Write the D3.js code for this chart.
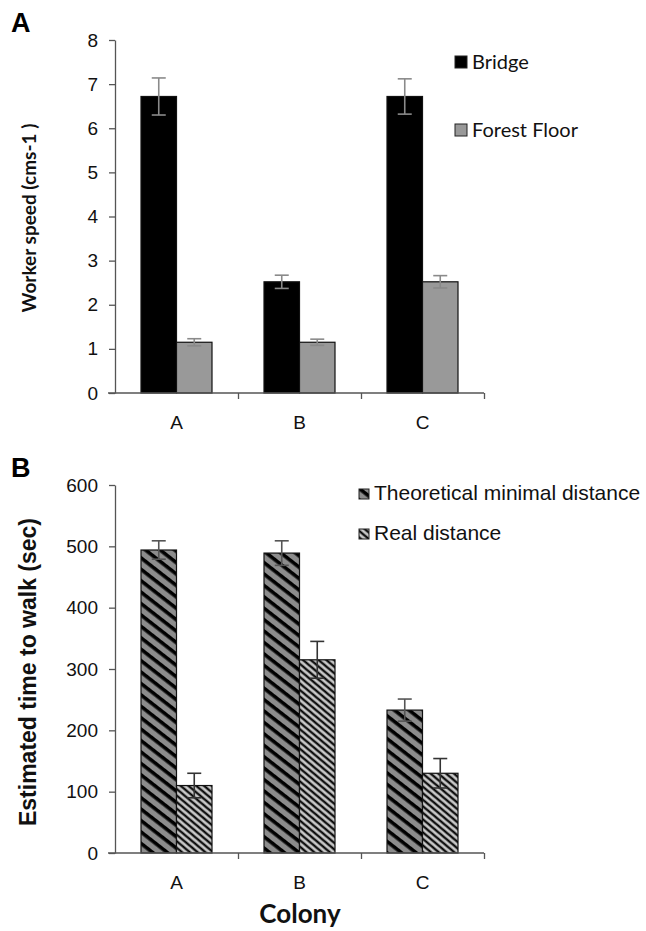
<!DOCTYPE html>
<html lang="en">
<head>
<meta charset="UTF-8">
<title>Worker speed and walking time</title>
<script src="https://cdn.jsdelivr.net/npm/d3@7"></script>
<style>
  body { margin: 0; background: #fff; }
  svg { display: block; }
  .tick text { font-family: "Liberation Sans", Arial, sans-serif; }
</style>
</head>
<body>
<script>
// data
var colonies = ["A", "B", "C"];
var bridgeSpeed = [6.72, 2.52, 6.72];
var bridgeErr = [0.42, 0.15, 0.40];
var forestSpeed = [1.15, 1.15, 2.52];
var forestErr = [0.08, 0.07, 0.14];
var theoTime = [494, 489, 233];
var theoErr = [15, 20, 18];
var realTime = [110, 315, 130];
var realErr = [20, 30, 24];
var speedTicks = [0, 1, 2, 3, 4, 5, 6, 7, 8];
var timeTicks = [0, 100, 200, 300, 400, 500, 600];

var W = 646, H = 931;
var svg = d3.select("body").append("svg")
    .attr("width", W)
    .attr("height", H);

// hatch patterns
var defs = svg.append("defs");
var p1 = defs.append("pattern")
    .attr("id", "hatchTheo")
    .attr("patternUnits", "userSpaceOnUse")
    .attr("width", 9).attr("height", 9)
    .attr("patternTransform", "rotate(38)");
p1.append("rect").attr("width", 9).attr("height", 9).attr("fill", "#8c8c8c");
p1.append("rect").attr("y", 0).attr("width", 9).attr("height", 3.6).attr("fill", "#000");

var p2 = defs.append("pattern")
    .attr("id", "hatchReal")
    .attr("patternUnits", "userSpaceOnUse")
    .attr("width", 5).attr("height", 5)
    .attr("patternTransform", "rotate(40)");
p2.append("rect").attr("width", 5).attr("height", 5).attr("fill", "#8c8c8c");
p2.append("rect").attr("y", 0).attr("width", 5).attr("height", 1.7).attr("fill", "#000");
p2.append("rect").attr("y", 2.6).attr("width", 5).attr("height", 1.1).attr("fill", "#f2f2f2");

var x0 = d3.scaleBand().domain(colonies).range([115, 484]);
var xb = d3.scaleLinear().domain([0, 3]).range([115, 484]);
var x1 = d3.scaleBand().domain([0, 1]).range([26, 97]);

function panel(opts) {
    var g = svg.append("g");
    var y = d3.scaleLinear().domain(opts.domain).range([opts.bottom, opts.top]);

    // y axis
    var ya = g.append("g")
        .attr("transform", "translate(115,0)")
        .call(d3.axisLeft(y).tickValues(opts.ticks).tickSize(6).tickSizeOuter(0).tickPadding(11));
    ya.select(".domain").attr("stroke", "#555").attr("stroke-width", 1.3);
    ya.selectAll(".tick line").attr("stroke", "#555").attr("stroke-width", 1.3);
    ya.selectAll(".tick text").attr("font-size", 19).attr("fill", "#111");

    // bars
    opts.series.forEach(function(s, si) {
        g.selectAll(null)
            .data(s.values)
            .enter()
            .append("rect")
            .attr("x", function(d, i) { return x0(colonies[i]) + x1(si) })
            .attr("y", function(d) { return y(d) })
            .attr("width", x1.bandwidth())
            .attr("height", function(d) { return y(0) - y(d) })
            .attr("fill", s.fill)
            .attr("stroke", "#111")
            .attr("stroke-width", 1.2);

        var eb = g.selectAll(null)
            .data(s.values)
            .enter()
            .append("g")
            .attr("stroke", s.errColor)
            .attr("stroke-width", 1.6);
        eb.append("line")
            .attr("x1", function(d, i) { return x0(colonies[i]) + x1(si) + x1.bandwidth() / 2 })
            .attr("x2", function(d, i) { return x0(colonies[i]) + x1(si) + x1.bandwidth() / 2 })
            .attr("y1", function(d, i) { return y(d - s.err[i]) })
            .attr("y2", function(d, i) { return y(d + s.err[i]) });
        [-1, 1].forEach(function(sign) {
            eb.append("line")
                .attr("x1", function(d, i) { return x0(colonies[i]) + x1(si) + x1.bandwidth() / 2 - 7 })
                .attr("x2", function(d, i) { return x0(colonies[i]) + x1(si) + x1.bandwidth() / 2 + 7 })
                .attr("y1", function(d, i) { return y(d + sign * s.err[i]) })
                .attr("y2", function(d, i) { return y(d + sign * s.err[i]) });
        });
    });

    // x axis with ticks at category boundaries
    var xa = g.append("g")
        .attr("transform", "translate(0," + y(0) + ")")
        .call(d3.axisBottom(xb).tickValues([1, 2, 3]).tickSize(6).tickSizeOuter(0).tickFormat(""));
    xa.select(".domain").attr("stroke", "#555").attr("stroke-width", 1.3).attr("d", "M108,0H484");
    xa.selectAll(".tick line").attr("stroke", "#555").attr("stroke-width", 1.3);

    g.selectAll("text.cat")
        .data(colonies)
        .enter()
        .append("text")
        .attr("class", "cat")
        .attr("x", function(d) { return x0(d) + x0.bandwidth() / 2 })
        .attr("y", y(0) + 36)
        .attr("text-anchor", "middle")
        .attr("font-family", "Liberation Sans, Arial, sans-serif")
        .attr("font-size", 19)
        .attr("fill", "#111")
        .text(function(d) { return d });

    // panel letter
    g.append("text")
        .attr("x", 11)
        .attr("y", opts.top - 8)
        .attr("font-family", "Liberation Sans, Arial, sans-serif")
        .attr("font-weight", "bold")
        .attr("font-size", 27)
        .text(opts.letter);

    // y label
    g.append("text")
        .attr("transform", "translate(" + opts.labelX + "," + opts.labelY + ") rotate(-90)")
        .attr("text-anchor", "middle")
        .attr("font-family", opts.labelFont)
        .attr("font-weight", "bold")
        .attr("font-size", opts.labelSize)
        .attr("fill", "#111")
        .text(opts.label);

    // legend
    opts.series.forEach(function(s, si) {
        var ly = opts.legY + si * opts.legGap;
        g.append("rect")
            .attr("x", opts.legX)
            .attr("y", ly - opts.sq + 1)
            .attr("width", opts.sq)
            .attr("height", opts.sq)
            .attr("fill", s.fill)
            .attr("stroke", "#222")
            .attr("stroke-width", 1);
        g.append("text")
            .attr("x", opts.legX + opts.sq + 5)
            .attr("y", ly + 2)
            .attr("font-family", opts.legFont)
            .attr("font-size", opts.legSize)
            .attr("fill", "#111")
            .text(s.name);
    });
    return y;
}

panel({
    letter: "A",
    domain: [0, 8], top: 40, bottom: 393, ticks: speedTicks,
    label: "Worker speed (cms-1 )", labelX: 36, labelY: 218, labelSize: 19,
    labelFont: "Lato, 'Open Sans', sans-serif",
    legX: 455, legY: 67, legGap: 68, sq: 12, legSize: 20,
    legFont: "Lato, 'Open Sans', sans-serif",
    series: [
        { name: "Bridge", values: bridgeSpeed, err: bridgeErr, fill: "#000", errColor: "#8a8a8a" },
        { name: "Forest Floor", values: forestSpeed, err: forestErr, fill: "#999", errColor: "#8a8a8a" }
    ]
});

panel({
    letter: "B",
    domain: [0, 600], top: 485, bottom: 853, ticks: timeTicks,
    label: "Estimated time to walk (sec)", labelX: 36, labelY: 672, labelSize: 23,
    labelFont: "Liberation Sans, Arial, sans-serif",
    legX: 359, legY: 498, legGap: 40, sq: 10, legSize: 21,
    legFont: "Liberation Sans, Arial, sans-serif",
    series: [
        { name: "Theoretical minimal distance", values: theoTime, err: theoErr, fill: "url(#hatchTheo)", errColor: "#555" },
        { name: "Real distance", values: realTime, err: realErr, fill: "url(#hatchReal)", errColor: "#333" }
    ]
});

svg.append("text")
    .attr("x", 300)
    .attr("y", 923)
    .attr("text-anchor", "middle")
    .attr("font-family", "Lato, 'Open Sans', sans-serif")
    .attr("font-weight", "bold")
    .attr("font-size", 26)
    .attr("fill", "#111")
    .text("Colony");
</script>
</body>
</html>
